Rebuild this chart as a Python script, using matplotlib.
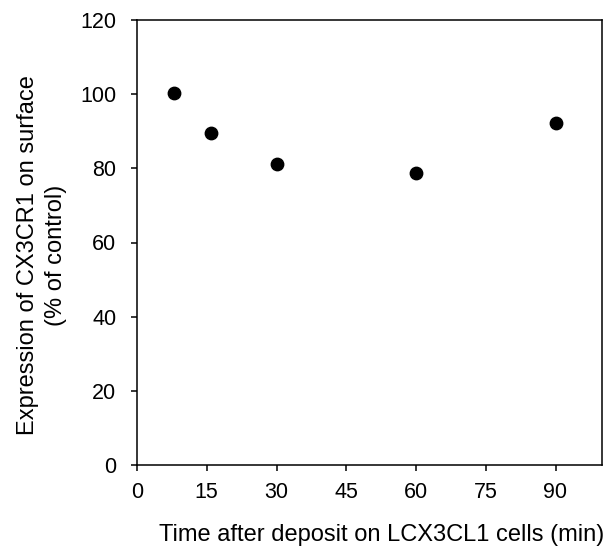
import matplotlib
matplotlib.use("Agg")
import matplotlib.pyplot as plt

# data
time_min = [8, 16, 30, 60, 90]
expression_pct = [100.4, 89.6, 81.3, 78.8, 92.1]
x_ticks = [0, 15, 30, 45, 60, 75, 90]
y_ticks = [0, 20, 40, 60, 80, 100, 120]

plt.rcParams["font.family"] = ["Liberation Sans", "DejaVu Sans"]

fig = plt.figure(figsize=(6.07, 5.47), dpi=100)
# axes box placed to match the reference frame (pixels -> figure fraction)
ax = fig.add_axes([137 / 607, 1 - 465 / 547, (602 - 137) / 607, (465 - 20) / 547])

ax.scatter(time_min, expression_pct, s=80, color="black", zorder=3, clip_on=False)

ax.set_xlim(0, 100)
ax.set_ylim(0, 120)
ax.set_xticks(x_ticks)
ax.set_yticks(y_ticks)
ax.tick_params(direction="out", length=4, width=1.1, labelsize=15.5)
ax.tick_params(axis="x", pad=8)
ax.tick_params(axis="y", pad=11)
for sp in ax.spines.values():
    sp.set_linewidth(1.1)

fig.text(382 / 607, 1 - 541 / 547, "Time after deposit on LCX3CL1 cells (min)",
         ha="center", va="baseline", fontsize=17)
fig.text(42 / 607, 1 - 255 / 547, "Expression of CX3CR1 on surface\n(% of control)",
         ha="center", va="center", rotation=90, fontsize=17, linespacing=1.3)

fig.savefig("out.png", dpi=100)
